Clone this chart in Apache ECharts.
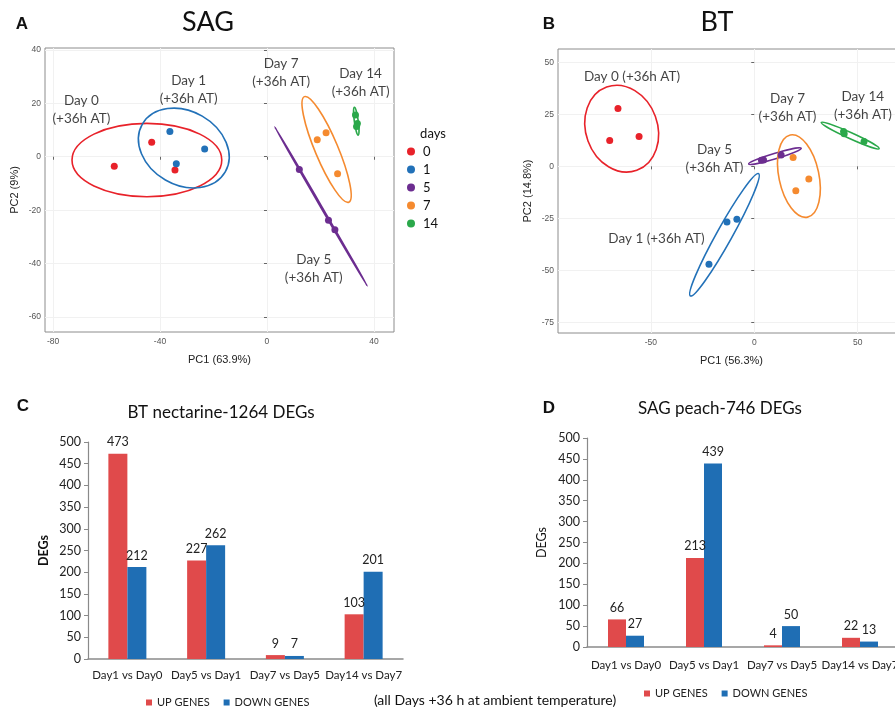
<!DOCTYPE html>
<html>
<head>
<meta charset="utf-8">
<script src="https://cdn.jsdelivr.net/npm/echarts@6/dist/echarts.min.js"></script>
<style>
  html, body { margin: 0; background: #fff; }
  #chart { width: 895px; height: 711px; }
</style>
</head>
<body>
<div id="chart"></div>
<script>
// ---- data ----
const days = ['0', '1', '5', '7', '14'];
const dayColors = ['#e8222a', '#2271b8', '#6c2d90', '#f58a2f', '#2aa84a'];

// PCA scores per day (SAG, panel A)
const sagScores = [
  [[-57.1, -3.6], [-43.1, 5.4], [-34.4, -5.0]],
  [[-36.3, 9.4], [-23.3, 2.9], [-33.9, -2.6]],
  [[12.1, -4.8], [23.0, -23.8], [25.4, -27.3]],
  [[18.8, 6.4], [22.1, 9.0], [26.4, -6.4]],
  [[33.1, 15.6], [33.8, 12.4], [33.5, 11.3]]
];
// PCA scores per day (BT, panel B)
const btScores = [
  [[-65.9, 27.8], [-69.9, 12.4], [-55.7, 14.3]],
  [[-13.2, -26.8], [-8.4, -25.4], [-21.9, -47.0]],
  [[3.5, 2.9], [4.5, 3.1], [13.0, 5.5]],
  [[18.8, 4.2], [26.4, -6.1], [20.1, -11.7]],
  [[43.2, 16.7], [43.5, 15.7], [53.1, 12.0]]
];

// confidence ellipses: [centre x, centre y, major-axis end x, end y, minor/major ratio, day index]
const sagEllipses = [
  [-44.9, -1.25, -16.9, -1.25, 0.49, 0],
  [-31.1, 3.25, -15.6, -5.7, 0.77, 1],
  [20.2, -18.6, 37.5, -48.4, 0.004, 2],
  [22.3, 2.75, 30.6, -17.0, 0.2, 3],
  [33.4, 13.3, 34.1, 8.1, 0.14, 4]
];
const btEllipses = [
  [-64.1, 18.1, -56.8, -1.9, 0.81, 0],
  [-14.4, -32.9, 2.1, -3.5, 0.11, 1],
  [10.0, 4.9, 22.7, 8.7, 0.1, 2],
  [21.6, -4.65, 25.8, -24.4, 0.476, 3],
  [46.4, 14.8, 60.4, 8.5, 0.095, 4]
];

const sagLabels = [
  ['Day 0\n(+36h AT)', -69.4, 17.5],
  ['Day 1\n(+36h AT)', -29.3, 25.0],
  ['Day 7\n(+36h AT)', 5.3, 31.5],
  ['Day 14\n(+36h AT)', 35.0, 27.8],
  ['Day 5\n(+36h AT)', 17.5, -41.9]
];
const btLabels = [
  ['Day 0 (+36h AT)', -59.1, 43.3],
  ['Day 7\n(+36h AT)', 16.1, 28.1],
  ['Day 14\n(+36h AT)', 52.5, 29.2],
  ['Day 5\n(+36h AT)', -19.2, 3.7],
  ['Day 1 (+36h AT)', -47.3, -34.8]
];

const comparisons = ['Day1 vs Day0', 'Day5 vs Day1', 'Day7 vs Day5', 'Day14 vs Day7'];
const btUp = [473, 227, 9, 103];
const btDown = [212, 262, 7, 201];
const sagUp = [66, 213, 4, 22];
const sagDown = [27, 439, 50, 13];

const sagXTicks = [-80, -40, 0, 40];
const sagYTicks = [-60, -40, -20, 0, 20, 40];
const btXTicks = [-50, 0, 50];
const btYTicks = [-75, -50, -25, 0, 25, 50];

// ---- styling helpers ----
const SANS = 'Liberation Sans, Arial, sans-serif';
const HUMAN = 'Lato, Open Sans, sans-serif';
const UP_COLOR = '#e04a4b';
const DOWN_COLOR = '#1f6eb4';

function ellipseItem(params, api) {
  const c = api.coord([api.value(0), api.value(1)]);
  const e = api.coord([api.value(2), api.value(3)]);
  const dx = e[0] - c[0], dy = e[1] - c[1];
  const rx = Math.sqrt(dx * dx + dy * dy);
  return {
    type: 'ellipse',
    x: c[0], y: c[1],
    rotation: -Math.atan2(dy, dx),
    shape: { cx: 0, cy: 0, rx: rx, ry: Math.max(rx * api.value(4), 0.6) },
    style: { fill: 'none', stroke: dayColors[api.value(5)], lineWidth: 1.6 }
  };
}

function pcaX(grid, min, max, ticks, name) {
  return {
    type: 'value', gridIndex: grid, min: min, max: max,
    name: name, nameLocation: 'middle', nameGap: 22,
    nameTextStyle: { fontFamily: SANS, fontSize: 11, color: '#222' },
    axisLine: { show: false },
    axisTick: { show: true, customValues: ticks, length: 3, lineStyle: { color: '#666' } },
    axisLabel: { customValues: ticks, fontFamily: SANS, fontSize: 8.5, color: '#555', margin: 5 },
    splitLine: { show: true, lineStyle: { color: '#f1f1f1', width: 1 } }
  };
}
function pcaY(grid, min, max, ticks, name, gap) {
  return {
    type: 'value', gridIndex: grid, min: min, max: max,
    name: name, nameLocation: 'middle', nameGap: gap, nameRotate: 90,
    nameTextStyle: { fontFamily: SANS, fontSize: 11, color: '#222' },
    axisLine: { show: false },
    axisTick: { show: true, customValues: ticks, length: 3, lineStyle: { color: '#666' } },
    axisLabel: { customValues: ticks, fontFamily: SANS, fontSize: 8.5, color: '#555', margin: 4 },
    splitLine: { show: true, lineStyle: { color: '#f1f1f1', width: 1 } }
  };
}
function degX(grid, margin) {
  return {
    type: 'category', gridIndex: grid, data: comparisons,
    axisLine: { lineStyle: { color: '#8a8a8a', width: 1.5 } },
    axisTick: { show: false },
    axisLabel: { interval: 0, fontFamily: HUMAN, fontSize: 11.5, color: '#222', margin: margin }
  };
}
function degY(grid, bold, gap) {
  return {
    type: 'value', gridIndex: grid, min: 0, max: 500, interval: 50,
    name: 'DEGs', nameLocation: 'middle', nameGap: gap, nameRotate: 90,
    nameTextStyle: { fontFamily: HUMAN, fontSize: 12.5, color: '#111', fontWeight: bold ? 'bold' : 'normal' },
    axisLine: { show: true, lineStyle: { color: '#8a8a8a', width: 1.2 } },
    axisTick: { show: true, length: 4, lineStyle: { color: '#8a8a8a' } },
    axisLabel: { fontFamily: HUMAN, fontSize: 12.5, color: '#222', margin: 7 },
    splitLine: { show: false }
  };
}
function degBar(name, grid, values, color, width) {
  return {
    type: 'bar', name: name, xAxisIndex: grid, yAxisIndex: grid, data: values,
    barWidth: width, barGap: '0%',
    itemStyle: { color: color },
    label: { show: true, position: 'top', distance: 5, fontFamily: HUMAN, fontSize: 12.5, color: '#222' }
  };
}
function labelSeries(grid, labels) {
  return {
    type: 'scatter', xAxisIndex: grid, yAxisIndex: grid, symbolSize: 0, silent: true, z: 5,
    data: labels.map(l => ({ name: l[0], value: [l[1], l[2]] })),
    label: { show: true, position: 'inside', formatter: '{b}', fontFamily: HUMAN, fontSize: 13.5,
      lineHeight: 18, color: '#111', align: 'center' }
  };
}

const series = [];
days.forEach((d, i) => {
  series.push({ type: 'scatter', name: d, xAxisIndex: 0, yAxisIndex: 0, data: sagScores[i],
    symbolSize: 7, itemStyle: { color: dayColors[i], opacity: 1 }, z: 4 });
});
days.forEach((d, i) => {
  series.push({ type: 'scatter', name: d, xAxisIndex: 1, yAxisIndex: 1, data: btScores[i],
    symbolSize: 7, itemStyle: { color: dayColors[i], opacity: 1 }, z: 4 });
});
series.push({ type: 'custom', coordinateSystem: 'cartesian2d', xAxisIndex: 0, yAxisIndex: 0,
  data: sagEllipses, renderItem: ellipseItem, silent: true, z: 3 });
series.push({ type: 'custom', coordinateSystem: 'cartesian2d', xAxisIndex: 1, yAxisIndex: 1,
  data: btEllipses, renderItem: ellipseItem, silent: true, z: 3 });
series.push(labelSeries(0, sagLabels));
series.push(labelSeries(1, btLabels));
series.push(degBar('UP GENES', 2, btUp, UP_COLOR, 19));
series.push(degBar('DOWN GENES', 2, btDown, DOWN_COLOR, 19));
series.push(degBar('UP GENES', 3, sagUp, UP_COLOR, 18));
series.push(degBar('DOWN GENES', 3, sagDown, DOWN_COLOR, 18));

function txt(text, x, y, size, weight, family) {
  return {
    type: 'text', x: x, y: y, silent: true,
    style: { text: text, fontSize: size, fontWeight: weight || 'normal', fontFamily: family || HUMAN,
      fill: '#111', align: 'center', verticalAlign: 'middle', textAlign: 'center', textVerticalAlign: 'middle' }
  };
}

const chart = echarts.init(document.getElementById('chart'));
chart.setOption({
  animation: false,
  backgroundColor: '#fff',
  grid: [
    { left: 45, top: 48, width: 349, height: 284, show: true, borderColor: '#8c8c8c', borderWidth: 1, outerBoundsMode: 'none' },
    { left: 558, top: 49, width: 347, height: 284, show: true, borderColor: '#8c8c8c', borderWidth: 1, outerBoundsMode: 'none' },
    { left: 88, top: 442, width: 315, height: 217, outerBoundsMode: 'none' },
    { left: 587, top: 438, width: 312, height: 209, outerBoundsMode: 'none' }
  ],
  xAxis: [
    pcaX(0, -83, 47.5, sagXTicks, 'PC1 (63.9%)'),
    pcaX(1, -94.9, 72.9, btXTicks, 'PC1 (56.3%)'),
    degX(2, 10),
    degX(3, 12)
  ],
  yAxis: [
    pcaY(0, -65.6, 40.7, sagYTicks, 'PC2 (9%)', 25),
    pcaY(1, -80.1, 56.4, btYTicks, 'PC2 (14.8%)', 25),
    degY(2, true, 38),
    degY(3, false, 39)
  ],
  legend: [
    { data: days, orient: 'vertical', left: 407, top: 145, padding: 0, icon: 'circle',
      itemWidth: 14, itemHeight: 8, itemGap: 5,
      textStyle: { fontFamily: HUMAN, fontSize: 13, lineHeight: 13, color: '#111' } },
    { data: ['UP GENES', 'DOWN GENES'], left: 146, top: 696, padding: 0, icon: 'rect',
      itemWidth: 6, itemHeight: 6, itemGap: 14,
      textStyle: { fontFamily: HUMAN, fontSize: 11, lineHeight: 13, color: '#222' } },
    { data: ['UP GENES', 'DOWN GENES'], left: 644, top: 687, padding: 0, icon: 'rect',
      itemWidth: 6, itemHeight: 6, itemGap: 14,
      textStyle: { fontFamily: HUMAN, fontSize: 11, lineHeight: 13, color: '#222' } }
  ],
  graphic: [
    txt('A', 22, 24, 17, 'bold', SANS),
    txt('SAG', 208, 22, 27),
    txt('B', 549, 24, 17, 'bold', SANS),
    txt('BT', 717, 22, 27),
    txt('days', 433, 134, 13),
    txt('C', 23, 406, 17, 'bold', SANS),
    txt('BT nectarine-1264 DEGs', 221, 413, 17),
    txt('D', 549, 408, 17, 'bold', SANS),
    txt('SAG peach-746 DEGs', 720, 409, 17),
    txt('(all Days +36 h at ambient temperature)', 495, 700, 14)
  ],
  series: series
});
</script>
</body>
</html>
